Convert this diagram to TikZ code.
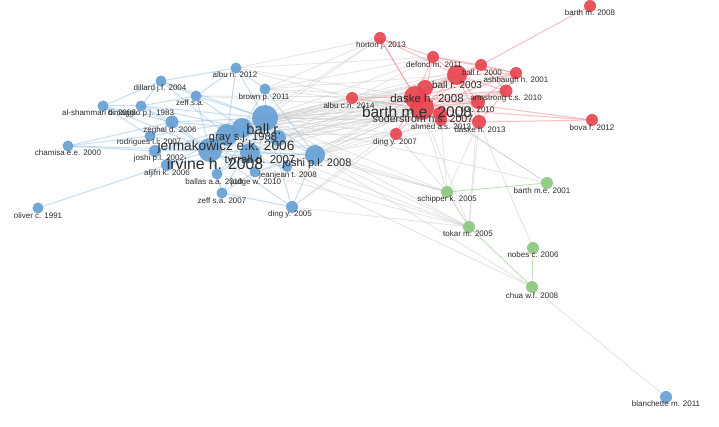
\documentclass[tikz,border=0pt]{standalone}
\usepackage{fontspec}
\setmainfont{Liberation Sans}
\definecolor{bluec}{RGB}{104,160,212}
\definecolor{redc}{RGB}{232,70,80}
\definecolor{greenc}{RGB}{140,200,128}
\definecolor{blueedge}{RGB}{160,200,234}
\definecolor{rededge}{RGB}{244,150,156}
\definecolor{grayedge}{RGB}{200,200,200}
\definecolor{labc}{RGB}{45,45,45}
\pgfdeclarelayer{bg}
\pgfdeclarelayer{edges}
\pgfdeclarelayer{labels}
\pgfsetlayers{bg,edges,main,labels}
\newcommand{\vn}[8]{%
  \node[#2, minimum size=#5pt] (#1) at (#3,#4) {};
  \begin{pgfonlayer}{labels}\node[lab] (#1-l) at (#6,#7) {#8};\end{pgfonlayer}}
\begin{document}
\begin{tikzpicture}[x=1pt,y=-1pt,
  nb/.style={circle,inner sep=0pt,draw=none,fill=bluec,fill opacity=0.92},
  nr/.style={circle,inner sep=0pt,draw=none,fill=redc,fill opacity=0.92},
  ng/.style={circle,inner sep=0pt,draw=none,fill=greenc,fill opacity=0.92},
  lab/.style={font=\fontsize{8}{9}\selectfont,text=labc,inner sep=0pt},
  be/.style={draw=blueedge,line width=1pt,draw opacity=0.6},
  re/.style={draw=rededge,line width=1pt,draw opacity=0.6},
  ge/.style={draw=grayedge,line width=0.8pt,draw opacity=0.5},
  gre/.style={draw=greenc,line width=0.8pt,draw opacity=0.6}]
\begin{pgfonlayer}{bg}
\fill[white] (0,0) rectangle (719,427);
\end{pgfonlayer}
\useasboundingbox (0,0) rectangle (719,427);
% ---- blue cluster
\vn{oli}{nb}{38}{208}{11}{38}{216}{oliver c. 1991}
\vn{cha}{nb}{68}{146}{11}{68}{153}{chamisa e.e. 2000}
\vn{als}{nb}{103}{106}{11}{99}{113}{al-shammari b. 2008}
\vn{dim}{nb}{141}{106}{11}{141}{113}{dimaggio p.j. 1983}
\vn{dil}{nb}{161}{81}{11}{160}{88}{dillard j.f. 2004}
\vn{zsa}{nb}{196}{96}{11}{190}{103}{zeff s.a.}
\vn{aln}{nb}{236}{68}{11}{235}{75}{albu n. 2012}
\vn{bro}{nb}{265}{89}{11}{264}{97}{brown p. 2011}
\vn{zeg}{nb}{172}{122}{13}{170}{130}{zeghal d. 2006}
\vn{rod}{nb}{150}{136}{11}{149}{142}{rodrigues l.l. 2007}
\vn{jos2}{nb}{155}{151}{12}{159}{158}{joshi p.l. 2002}
\vn{alj}{nb}{167}{165}{12}{167}{173}{aljifri k. 2006}
\vn{bal}{nb}{217}{174}{11}{214}{182}{ballas a.a. 2010}
\vn{xz}{nb}{255}{172}{11}{256}{182}{judge w. 2010}
\vn{jea}{nb}{287}{167}{10}{288}{175}{jeanjean t. 2008}
\vn{zsa7}{nb}{222}{193}{11}{222}{201}{zeff s.a. 2007}
\vn{din5}{nb}{292}{207}{12}{290}{214}{ding y. 2005}
\vn{bla}{nb}{666}{397}{12}{666}{404}{blanchette m. 2011}
\node[nb,minimum size=26pt] (ball) at (265,118) {};
\node[nb,minimum size=20pt] (nB) at (242,128) {};
\node[nb,minimum size=22pt] (nC) at (227,135) {};
\node[nb,minimum size=24pt] (nD) at (210,150) {};
\node[nb,minimum size=20pt] (nE) at (250,153) {};
\node[nb,minimum size=16pt] (nF) at (278,138) {};
\node[nb,minimum size=20pt] (jos8) at (315,155) {};
\begin{pgfonlayer}{labels}
\node[lab,font=\fontsize{14.7}{15}\selectfont] (ball-l) at (264,129) {ball r.};
\node[lab,font=\fontsize{11.2}{12}\selectfont] (nB-l) at (243,138) {gray s.j. 1988};
\node[lab,font=\fontsize{13.7}{14}\selectfont] (nC-l) at (226,147) {jermakowicz e.k. 2006};
\node[lab,font=\fontsize{11.5}{12}\selectfont] (nE-l) at (260,161) {tyrrall d. 2007};
\node[lab,font=\fontsize{15.8}{16}\selectfont] (nD-l) at (215,164) {irvine h. 2008};
\node[lab,font=\fontsize{11}{11}\selectfont] (jos8-l) at (317,164) {joshi p.l. 2008};
\end{pgfonlayer}
% ---- red cluster
\vn{bm}{nr}{590}{6}{12}{590}{13}{barth m. 2008}
\vn{hor}{nr}{380}{38}{12}{381}{45}{horton j. 2013}
\vn{def}{nr}{433}{57}{12}{434}{65}{defond m. 2011}
\vn{br00}{nr}{481}{65}{12}{482}{73}{ball r. 2000}
\vn{ash}{nr}{516}{73}{12}{516}{80}{ashbaugh h. 2001}
\vn{acn}{nr}{352}{98}{12}{349}{106}{albu c.n. 2014}
\vn{din7}{nr}{396}{134}{12}{395}{142}{ding y. 2007}
\vn{ahm}{nr}{441}{120}{12}{441}{127}{ahmed a.s. 2013}
\vn{das13}{nr}{479}{122}{14}{480}{130}{daske h. 2013}
\vn{arm}{nr}{506}{91}{13}{506}{99}{armstrong c.s. 2010}
\vn{li}{nr}{478}{102}{14}{478}{110}{li s. 2010}
\vn{bov}{nr}{592}{120}{12}{592}{128}{bova f. 2012}
\node[nr,minimum size=16pt] (r2) at (425,88) {};
\node[nr,minimum size=20pt] (br03) at (457,75) {};
\node[nr,minimum size=22pt] (das08) at (415,97) {};
\node[nr,minimum size=24pt] (bme08) at (422,108) {};
\node[nr,minimum size=14pt] (sod) at (440,114) {};
\begin{pgfonlayer}{labels}
\node[lab,font=\fontsize{10}{10}\selectfont] (br03-l) at (457,85) {ball r. 2003};
\node[lab,font=\fontsize{11.5}{12}\selectfont] (das08-l) at (427,98) {daske h. 2008};
\node[lab,font=\fontsize{10.6}{11}\selectfont] (sod-l) at (423,119) {soderstrom n.s. 2007};
\node[lab,font=\fontsize{15.5}{16}\selectfont] (bme08-l) at (417,112) {barth m.e. 2008};
\end{pgfonlayer}
% ---- green cluster
\vn{sch}{ng}{447}{192}{12}{447}{199}{schipper k. 2005}
\vn{bme01}{ng}{547}{183}{12}{542}{191}{barth m.e. 2001}
\vn{tok}{ng}{469}{227}{12}{468}{234}{tokar m. 2005}
\vn{nob}{ng}{533}{248}{12}{533}{255}{nobes c. 2006}
\vn{chu}{ng}{532}{287}{12}{532}{296}{chua w.f. 2008}
% ---- edges
\begin{pgfonlayer}{edges}
\foreach \a/\b in {ball/bme08,ball/das08,ball/sod,ball/br03,ball/br00,ball/hor,ball/def,ball/acn,ball/din7,ball/li,ball/das13,ball/arm,ball/ash,ball/r2,ball/ahm,
 nC/bme08,nC/das08,nC/din7,nC/acn,nC/br03,nC/sod,nB/bme08,nB/das08,nB/br03,nB/hor,nD/bme08,nD/das08,nD/sod,
 nE/bme08,nE/das08,nE/din7,nF/bme08,nF/das08,nF/br03,nF/def,nF/li,
 jos8/bme08,jos8/das08,jos8/din7,jos8/sod,jos8/das13,bro/hor,bro/bme08,bro/das08,bro/def,bro/br03,
 aln/hor,aln/acn,aln/def,aln/das08,zsa/bme08,zsa/das08,xz/bme08,jea/bme08,jea/das08,din5/bme08,din5/din7,
 nC/sch,ball/sch,nB/sch,nC/tok,ball/tok,din5/tok,jos8/sch,jos8/tok,jos8/chu,nE/chu,ball/bme01,jea/tok,xz/tok,
 das13/nob,das13/tok,das13/sch,ahm/sch,bme08/sch,bme08/tok,din7/sch,sod/bme01,das08/bme01,li/tok,chu/bla}
  \draw[ge] (\a.center) -- (\b.center);
\foreach \a/\b in {oli/alj,cha/zeg,cha/rod,cha/jos2,cha/nD,als/dim,als/zeg,als/dil,als/nD,als/rod,
 dim/dil,dim/zsa,dim/zeg,dim/ball,dim/nB,dim/nD,dil/zsa,dil/aln,dil/ball,dil/nC,zsa/ball,zsa/nD,zsa/nB,zsa/aln,
 aln/ball,aln/bro,aln/nC,bro/ball,bro/nB,bro/jos8,zeg/nD,zeg/ball,zeg/nB,zeg/rod,rod/nD,rod/ball,
 jos2/nD,jos2/ball,jos2/nC,alj/nD,alj/ball,alj/nE,bal/nD,bal/ball,bal/zsa7,bal/nE,xz/ball,xz/nD,xz/jos8,
 jea/ball,jea/nD,zsa7/nD,zsa7/ball,zsa7/din5,zsa7/xz,din5/ball,din5/nD,din5/jos8,jos8/ball,jos8/nD,jos8/nE,jos8/nF,
 ball/nB,ball/nC,ball/nD,ball/nE,ball/nF,nB/nC,nC/nD,nD/nE,nE/nF,nB/nF}
  \draw[be] (\a.center) -- (\b.center);
\foreach \a/\b in {bm/br00,hor/br03,hor/das08,hor/bme08,hor/def,def/br03,def/das08,def/bme08,def/br00,def/ash,
 br00/br03,br00/ash,br00/bme08,br00/das08,br00/arm,ash/br03,ash/das08,ash/bme08,ash/arm,ash/li,
 br03/das08,br03/bme08,br03/arm,br03/li,br03/r2,br03/das13,r2/das08,r2/bme08,
 das08/bme08,das08/li,das08/arm,das08/das13,das08/sod,bme08/li,bme08/das13,bme08/ahm,bme08/arm,bme08/bov,bme08/sod,
 das13/bov,das08/bov,acn/das08,acn/bme08,din7/bme08,din7/das08,din7/ahm,ahm/das13,arm/das13,li/das13,li/arm}
  \draw[re] (\a.center) -- (\b.center);
\foreach \a/\b in {sch/bme01,sch/tok,tok/chu,nob/chu}
  \draw[gre] (\a.center) -- (\b.center);
\end{pgfonlayer}
\end{tikzpicture}
\end{document}
